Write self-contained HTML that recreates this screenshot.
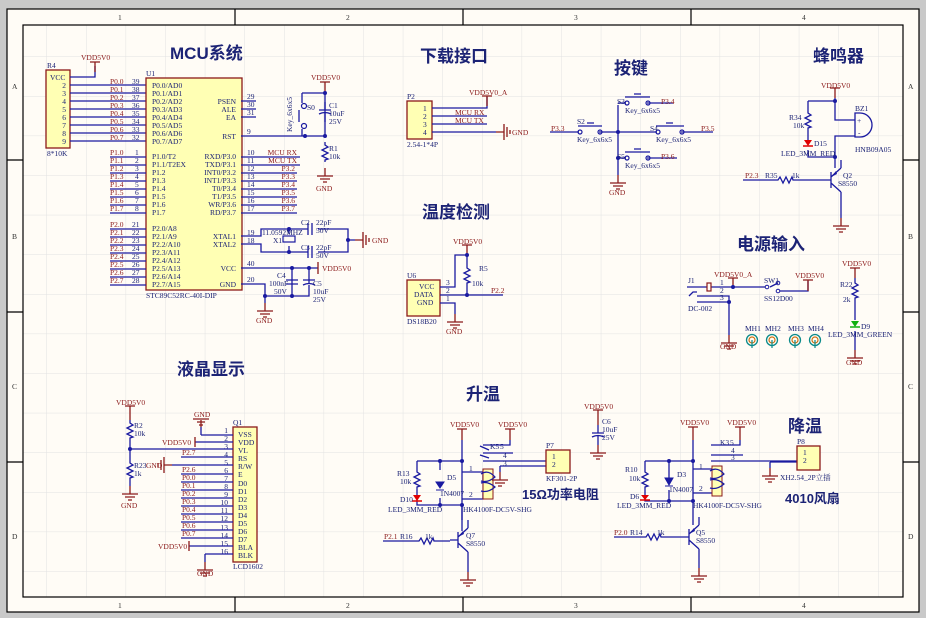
<!DOCTYPE html>
<html><head><meta charset="utf-8"><style>
html,body{margin:0;padding:0;background:#c9c9c9;}
svg{display:block;}
text{font-family:"Liberation Serif","Noto Serif CJK SC",serif;font-size:7.5px;}
.t{font-family:"Liberation Sans","Noto Sans CJK SC",sans-serif;font-size:17px;font-weight:bold;fill:#1c2375;}
.n{fill:#8b1a1a;}
.p{fill:#1c2375;}
.w{stroke:#1a1aa0;stroke-width:1.3;fill:none;}
.r{stroke:#8b1a1a;stroke-width:1.3;fill:none;}
.b{fill:#ffffb4;stroke:#8b1a1a;stroke-width:1.3;}
</style></head><body>
<svg width="926" height="618" viewBox="0 0 926 618" xmlns="http://www.w3.org/2000/svg">
<defs>
<pattern id="grid" x="6.8" y="16.8" width="39.6" height="39.6" patternUnits="userSpaceOnUse">
<path d="M0 0V39.6M0 0H39.6" stroke="#e2e2e2" stroke-width="1" fill="none"/>
</pattern>
<g id="gnd"><path d="M0 0V8M-8 8H8M-5 11H5M-2 14H2" stroke="#8b1a1a" stroke-width="1.3" fill="none"/></g>
<g id="gndr"><path d="M0 0H8M8 -8V8M11 -5V5M14 -2V2" stroke="#8b1a1a" stroke-width="1.3" fill="none"/></g>
<g id="gndl"><path d="M0 0H-8M-8 -8V8M-11 -5V5M-14 -2V2" stroke="#8b1a1a" stroke-width="1.3" fill="none"/></g>
<g id="res"><path d="M0 0V3L3 5L-3 8L3 11L-3 14L3 17L0 18V20" stroke="#1a1aa0" stroke-width="1.3" fill="none"/></g>
<g id="resh"><path d="M0 0H3L5 -3L8 3L11 -3L14 3L17 -3L18 0H20" stroke="#1a1aa0" stroke-width="1.3" fill="none"/></g>
<g id="pwr"><path d="M0 0V10M-5 0H5" stroke="#8b1a1a" stroke-width="1.3" fill="none"/></g>
<g id="cap"><path d="M0 0V8M-6 8H6M-6 12Q0 9 6 12M0 11V20" stroke="#1a1aa0" stroke-width="1.3" fill="none"/></g>
<g id="pnp"><path d="M-12 0H-4M-4 -8V8M-4 -3L6 -12M-4 3L6 12M6 -12V-20M6 12V20" stroke="#1a1aa0" stroke-width="1.3" fill="none"/><path d="M-4 -3L1 -9L2 -6Z" fill="#1a1aa0"/></g>
<g id="relay"><rect x="-5" y="0" width="10" height="30" fill="#ffffb4" stroke="#8b1a1a" stroke-width="1"/><path d="M-7 5Q0 0 7 8Q0 14 -7 12M-7 14Q0 12 7 18Q0 24 -7 22" stroke="#1a1aa0" stroke-width="1.2" fill="none"/></g>
<g id="mh"><circle r="5.5" fill="none" stroke="#0a8a8a" stroke-width="1.3"/><circle r="3" fill="none" stroke="#d07010" stroke-width="1.2"/><path d="M0 0V8" stroke="#0a8a8a" stroke-width="1.2"/></g>
</defs>
<rect x="7" y="9" width="912" height="603" fill="#fffcf6" stroke="#000" stroke-width="1.2"/>
<rect x="23" y="25" width="880" height="572" fill="url(#grid)" stroke="#000" stroke-width="1.2"/>
<path d="M235 9V25M463 9V25M691 9V25M235 597V612M463 597V612M691 597V612M7 160H23M7 312H23M7 462H23M903 160H919M903 312H919M903 462H919" stroke="#000" stroke-width="1.2"/>
<g fill="#333" font-size="7"><text x="118" y="20">1</text><text x="346" y="20">2</text><text x="574" y="20">3</text><text x="802" y="20">4</text>
<text x="118" y="608">1</text><text x="346" y="608">2</text><text x="574" y="608">3</text><text x="802" y="608">4</text>
<text x="12" y="89">A</text><text x="12" y="239">B</text><text x="12" y="389">C</text><text x="12" y="539">D</text>
<text x="908" y="89">A</text><text x="908" y="239">B</text><text x="908" y="389">C</text><text x="908" y="539">D</text></g>

<text class="t" x="170" y="59">MCU系统</text>
<text class="t" x="420" y="62">下载接口</text>
<text class="t" x="614" y="74">按键</text>
<text class="t" x="813" y="62">蜂鸣器</text>
<text class="t" x="422" y="218">温度检测</text>
<text class="t" x="737" y="250">电源输入</text>
<text class="t" x="177" y="375">液晶显示</text>
<text class="t" x="466" y="400">升温</text>
<text class="t" x="788" y="432">降温</text>
<text class="t" x="522" y="499" style="font-size:13px">15Ω功率电阻</text>
<text class="t" x="785" y="503" style="font-size:13px">4010风扇</text>

<text class="p" x="47" y="68">R4</text>
<rect class="b" x="46" y="70" width="24" height="78"/>
<text class="p" x="50" y="80">VCC</text>
<g class="p" text-anchor="end"><text x="66" y="88">2</text><text x="66" y="96">3</text><text x="66" y="104">4</text><text x="66" y="112">5</text><text x="66" y="120">6</text><text x="66" y="128">7</text><text x="66" y="136">8</text><text x="66" y="144">9</text></g>
<text class="p" x="47" y="156">8*10K</text>
<path class="w" d="M70 77H95V66M70 85H146M70 93H146M70 101H146M70 109H146M70 117H146M70 125H146M70 133H146M70 141H146"/>
<use href="#pwr" x="95" y="62"/><text class="n" x="81" y="60">VDD5V0</text>

<text class="p" x="146" y="76">U1</text>
<rect class="b" x="146" y="78" width="96" height="212"/>
<text class="p" x="146" y="298">STC89C52RC-40I-DIP</text>
<g class="p">
<text x="152" y="88">P0.0/AD0</text><text x="152" y="96">P0.1/AD1</text><text x="152" y="104">P0.2/AD2</text><text x="152" y="112">P0.3/AD3</text><text x="152" y="120">P0.4/AD4</text><text x="152" y="128">P0.5/AD5</text><text x="152" y="136">P0.6/AD6</text><text x="152" y="144">P0.7/AD7</text>
<text x="152" y="159">P1.0/T2</text><text x="152" y="167">P1.1/T2EX</text><text x="152" y="175">P1.2</text><text x="152" y="183">P1.3</text><text x="152" y="191">P1.4</text><text x="152" y="199">P1.5</text><text x="152" y="207">P1.6</text><text x="152" y="215">P1.7</text>
<text x="152" y="231">P2.0/A8</text><text x="152" y="239">P2.1/A9</text><text x="152" y="247">P2.2/A10</text><text x="152" y="255">P2.3/A11</text><text x="152" y="263">P2.4/A12</text><text x="152" y="271">P2.5/A13</text><text x="152" y="279">P2.6/A14</text><text x="152" y="287">P2.7/A15</text>
</g>
<g class="p" text-anchor="end">
<text x="236" y="104">PSEN</text><text x="236" y="112">ALE</text><text x="236" y="120">EA</text><text x="236" y="139">RST</text>
<text x="236" y="159">RXD/P3.0</text><text x="236" y="167">TXD/P3.1</text><text x="236" y="175">INT0/P3.2</text><text x="236" y="183">INT1/P3.3</text><text x="236" y="191">T0/P3.4</text><text x="236" y="199">T1/P3.5</text><text x="236" y="207">WR/P3.6</text><text x="236" y="215">RD/P3.7</text>
<text x="236" y="239">XTAL1</text><text x="236" y="247">XTAL2</text><text x="236" y="271">VCC</text><text x="236" y="287">GND</text>
</g>
<path class="w" d="M110 157H146M110 165H146M110 173H146M110 181H146M110 189H146M110 197H146M110 205H146M110 213H146M110 229H146M110 237H146M110 245H146M110 253H146M110 261H146M110 269H146M110 277H146M110 285H146"/>
<g class="n">
<text x="110" y="84">P0.0</text><text x="110" y="92">P0.1</text><text x="110" y="100">P0.2</text><text x="110" y="108">P0.3</text><text x="110" y="116">P0.4</text><text x="110" y="124">P0.5</text><text x="110" y="132">P0.6</text><text x="110" y="140">P0.7</text>
<text x="110" y="155">P1.0</text><text x="110" y="163">P1.1</text><text x="110" y="171">P1.2</text><text x="110" y="179">P1.3</text><text x="110" y="187">P1.4</text><text x="110" y="195">P1.5</text><text x="110" y="203">P1.6</text><text x="110" y="211">P1.7</text>
<text x="110" y="227">P2.0</text><text x="110" y="235">P2.1</text><text x="110" y="243">P2.2</text><text x="110" y="251">P2.3</text><text x="110" y="259">P2.4</text><text x="110" y="267">P2.5</text><text x="110" y="275">P2.6</text><text x="110" y="283">P2.7</text>
</g>
<g class="p">
<text x="132" y="84">39</text><text x="132" y="92">38</text><text x="132" y="100">37</text><text x="132" y="108">36</text><text x="132" y="116">35</text><text x="132" y="124">34</text><text x="132" y="132">33</text><text x="132" y="140">32</text>
<text x="135" y="155">1</text><text x="135" y="163">2</text><text x="135" y="171">3</text><text x="135" y="179">4</text><text x="135" y="187">5</text><text x="135" y="195">6</text><text x="135" y="203">7</text><text x="135" y="211">8</text>
<text x="132" y="227">21</text><text x="132" y="235">22</text><text x="132" y="243">23</text><text x="132" y="251">24</text><text x="132" y="259">25</text><text x="132" y="267">26</text><text x="132" y="275">27</text><text x="132" y="283">28</text>
<text x="247" y="99">29</text><text x="247" y="107">30</text><text x="247" y="115">31</text><text x="247" y="134">9</text>
<text x="247" y="155">10</text><text x="247" y="163">11</text><text x="247" y="171">12</text><text x="247" y="179">13</text><text x="247" y="187">14</text><text x="247" y="195">15</text><text x="247" y="203">16</text><text x="247" y="211">17</text>
<text x="247" y="235">19</text><text x="247" y="243">18</text><text x="247" y="266">40</text><text x="247" y="282">20</text>
</g>
<path class="w" d="M241 101H256M241 109H256M241 117H256M241 136H325M241 157H300M241 165H300M241 173H297M241 181H297M241 189H297M241 197H297M241 205H297M241 213H297"/>
<g class="n" text-anchor="end"><text x="297" y="155">MCU RX</text><text x="297" y="163">MCU TX</text><text x="295" y="171">P3.2</text><text x="295" y="179">P3.3</text><text x="295" y="187">P3.4</text><text x="295" y="195">P3.5</text><text x="295" y="203">P3.6</text><text x="295" y="211">P3.7</text></g>
<path class="w" d="M302 93H325V136M302 93V103M302 129V136"/>
<circle cx="304" cy="106" r="2.5" fill="none" stroke="#1a1aa0" stroke-width="1.2"/><circle cx="304" cy="126" r="2.5" fill="none" stroke="#1a1aa0" stroke-width="1.2"/>
<path class="w" d="M299 110V122"/>
<text class="p" x="0" y="0" transform="translate(292 132) rotate(-90)">Key_6x6x5</text>
<text class="p" x="307" y="110">S0</text>
<use href="#pwr" x="325" y="82"/><text class="n" x="311" y="80">VDD5V0</text>
<use href="#cap" x="325" y="102"/><text class="p" x="329" y="108">C1</text><text class="p" x="329" y="116">10uF</text><text class="p" x="329" y="124">25V</text>
<use href="#res" x="325" y="142"/><text class="p" x="329" y="151">R1</text><text class="p" x="329" y="159">10k</text>
<use href="#gnd" x="325" y="168"/><text class="n" x="316" y="191">GND</text>
<circle cx="325" cy="93" r="2" fill="#1a1aa0"/><circle cx="305" cy="136" r="2" fill="#1a1aa0"/><circle cx="325" cy="136" r="2" fill="#1a1aa0"/>
<path class="w" d="M241 236H261V229H308M318 229H348V252H318M308 252H261V244H241M289 229V234M289 246V252M348 240H355"/>
<path class="w" d="M308 223V235M312 223V235M308 246V258M312 246V258"/>
<rect x="283" y="236" width="12" height="6" fill="none" stroke="#1a1aa0" stroke-width="1.2"/>
<use href="#gndr" x="355" y="240"/><text class="n" x="372" y="243">GND</text>
<circle cx="289" cy="229" r="2" fill="#1a1aa0"/><circle cx="289" cy="252" r="2" fill="#1a1aa0"/><circle cx="348" cy="240" r="2" fill="#1a1aa0"/>
<text class="p" x="262" y="235">11.0592MHZ</text><text class="p" x="273" y="243">X1</text>
<text class="p" x="301" y="225">C2</text><text class="p" x="316" y="225">22pF</text><text class="p" x="316" y="233">50V</text>
<text class="p" x="301" y="250">C3</text><text class="p" x="316" y="250">22pF</text><text class="p" x="316" y="258">50V</text>
<path class="w" d="M241 268H318M241 284H265V296H309V268M292 268V296M265 296V303"/>
<path class="r" d="M318 262V274"/><text class="n" x="322" y="271">VDD5V0</text>
<path d="M286 280H298M286 284H298M303 280H315M303 285Q309 282 315 285" stroke="#1a1aa0" stroke-width="1.3" fill="#fffcf6"/>
<circle cx="292" cy="268" r="2" fill="#1a1aa0"/><circle cx="309" cy="268" r="2" fill="#1a1aa0"/><circle cx="265" cy="296" r="2" fill="#1a1aa0"/><circle cx="292" cy="296" r="2" fill="#1a1aa0"/>
<text class="p" x="277" y="278">C4</text><text class="p" x="269" y="286">100nF</text><text class="p" x="274" y="294">50V</text>
<text class="p" x="313" y="286">C5</text><text class="p" x="313" y="294">10uF</text><text class="p" x="313" y="302">25V</text>
<use href="#gnd" x="265" y="303"/><text class="n" x="256" y="323">GND</text>

<text class="p" x="407" y="99">P2</text>
<rect class="b" x="407" y="101" width="25" height="38"/>
<g class="p"><text x="423" y="111">1</text><text x="423" y="119">2</text><text x="423" y="127">3</text><text x="423" y="135">4</text></g>
<text class="p" x="407" y="147">2.54-1*4P</text>
<path class="w" d="M432 108H487V97M432 116H487M432 124H487M432 132H496"/>
<path class="r" d="M487 96V106M482 96H492"/><text class="n" x="469" y="95">VDD5V0_A</text>
<g class="n"><text x="455" y="115">MCU RX</text><text x="455" y="123">MCU TX</text></g>
<use href="#gndr" x="496" y="132"/><text class="n" x="512" y="135">GND</text>

<text class="p" x="407" y="278">U6</text>
<rect class="b" x="407" y="280" width="33" height="36"/>
<g class="p"><text x="419" y="289">VCC</text><text x="414" y="297">DATA</text><text x="417" y="305">GND</text>
<text x="446" y="285">3</text><text x="446" y="293">2</text><text x="446" y="301">1</text></g>
<text class="p" x="407" y="324">DS18B20</text>
<path class="w" d="M440 287H455V255H467V265M440 295H503M440 303H455V314M467 285V295"/>
<use href="#res" x="467" y="265"/><text class="p" x="479" y="271">R5</text><text class="p" x="472" y="286">10k</text>
<path class="r" d="M467 245V255M462 245H472"/><text class="n" x="453" y="244">VDD5V0</text>
<circle cx="467" cy="255" r="2" fill="#1a1aa0"/><circle cx="467" cy="295" r="2" fill="#1a1aa0"/>
<text class="n" x="491" y="293">P2.2</text>
<use href="#gnd" x="455" y="314"/><text class="n" x="446" y="334">GND</text>

<path class="w" d="M550 132H579M599 132H657M681 132H713M618 105V175M618 103H626M647 103H673M618 158H626M647 158H677"/>
<g fill="none" stroke="#1a1aa0" stroke-width="1.2">
<circle cx="580" cy="132" r="2"/><circle cx="600" cy="132" r="2"/><circle cx="627" cy="103" r="2"/><circle cx="648" cy="103" r="2"/>
<circle cx="658" cy="132" r="2"/><circle cx="682" cy="132" r="2"/><circle cx="627" cy="158" r="2"/><circle cx="648" cy="158" r="2"/></g>
<path class="w" d="M578 126H602M587 123H594M625 97H650M634 94H641M656 126H684M666 123H673M625 152H650M634 149H641"/>
<circle cx="618" cy="132" r="2" fill="#1a1aa0"/><circle cx="618" cy="158" r="2" fill="#1a1aa0"/>
<g class="p"><text x="577" y="124">S2</text><text x="617" y="104">S3</text><text x="650" y="131">S4</text><text x="617" y="159">S5</text>
<text x="577" y="142">Key_6x6x5</text><text x="625" y="113">Key_6x6x5</text><text x="656" y="142">Key_6x6x5</text><text x="625" y="168">Key_6x6x5</text></g>
<g class="n"><text x="551" y="131">P3.3</text><text x="661" y="104">P3.4</text><text x="701" y="131">P3.5</text><text x="661" y="159">P3.6</text></g>
<use href="#gnd" x="618" y="175"/><text class="n" x="609" y="195">GND</text>

<path class="r" d="M835 88V98M830 88H840"/><text class="n" x="821" y="88">VDD5V0</text>
<path class="w" d="M835 98V120H855M808 101H835M808 101V110M808 130V140M808 150V157H835V136H855M835 157V168"/>
<use href="#res" x="808" y="110"/>
<circle cx="835" cy="101" r="2" fill="#1a1aa0"/><circle cx="835" cy="157" r="2" fill="#1a1aa0"/>
<path d="M804 140H812L808 146Z" fill="#e00000"/><path d="M803 146H813" stroke="#e00000" stroke-width="1.5"/>
<text class="p" x="789" y="120">R34</text><text class="p" x="793" y="128">10k</text>
<text class="p" x="814" y="146">D15</text><text class="p" x="781" y="156">LED_3MM_RED</text>
<path d="M855 113H860A12 12 0 0 1 860 137H855Z" fill="none" stroke="#1a1aa0" stroke-width="1.3"/>
<text class="p" x="857" y="123" font-size="9">+</text><text class="p" x="858" y="135" font-size="9">-</text>
<text class="p" x="855" y="111">BZ1</text><text class="p" x="855" y="152">HNB09A05</text>
<use href="#pnp" x="835" y="180"/>
<path class="w" d="M743 180H775M795 180H823M841 200V218"/>
<use href="#resh" x="775" y="180"/>
<text class="n" x="745" y="178">P2.3</text><text class="p" x="765" y="178">R35</text><text class="p" x="792" y="178">1k</text>
<text class="p" x="843" y="178">Q2</text><text class="p" x="838" y="186">S8550</text>
<use href="#gnd" x="841" y="218"/>

<path class="w" d="M687 287H707M711 287H765M780 291H808V281M697 296H729V335M689 296L693 292H697"/>
<rect x="707" y="283" width="4" height="8" fill="none" stroke="#8b1a1a" stroke-width="1.2"/>
<path class="w" d="M697 302H729M770 287L778 283"/>
<circle cx="767" cy="287" r="1.8" fill="none" stroke="#1a1aa0"/><circle cx="778" cy="283" r="1.8" fill="none" stroke="#1a1aa0"/><circle cx="778" cy="291" r="1.8" fill="none" stroke="#1a1aa0"/>
<path class="r" d="M733 278V287M728 278H738M808 280V291M803 280H813"/>
<text class="n" x="714" y="277">VDD5V0_A</text><text class="n" x="795" y="278">VDD5V0</text>
<circle cx="733" cy="287" r="2" fill="#1a1aa0"/><circle cx="729" cy="302" r="2" fill="#1a1aa0"/>
<g class="p"><text x="688" y="283">J1</text><text x="720" y="285">1</text><text x="720" y="293">2</text><text x="720" y="300">3</text><text x="688" y="311">DC-002</text>
<text x="764" y="283">SW1</text><text x="764" y="301">SS12D00</text>
<text x="745" y="331">MH1</text><text x="765" y="331">MH2</text><text x="788" y="331">MH3</text><text x="808" y="331">MH4</text></g>
<use href="#gnd" x="729" y="335"/><text class="n" x="720" y="349">GND</text>
<use href="#mh" x="752" y="340"/><use href="#mh" x="772" y="340"/><use href="#mh" x="795" y="340"/><use href="#mh" x="815" y="340"/>
<path class="r" d="M855 268V278M850 268H860"/><text class="n" x="842" y="266">VDD5V0</text>
<path class="w" d="M855 278V280M855 300V320M855 331V350"/>
<use href="#res" x="855" y="280"/>
<text class="p" x="840" y="287">R22</text><text class="p" x="843" y="302">2k</text>
<path d="M851 321H859L855 327Z" fill="#10b010"/><path d="M850 327H860" stroke="#10b010" stroke-width="1.5"/>
<text class="p" x="861" y="329">D9</text><text class="p" x="828" y="337">LED_3MM_GREEN</text>
<use href="#gnd" x="855" y="350"/><text class="n" x="846" y="365">GND</text>

<text class="p" x="233" y="425">Q1</text>
<rect class="b" x="233" y="427" width="24" height="135"/>
<g class="p">
<text x="238" y="437">VSS</text><text x="238" y="445">VDD</text><text x="238" y="453">VL</text><text x="238" y="461">RS</text><text x="238" y="469">R/W</text><text x="238" y="477">E</text><text x="238" y="486">D0</text><text x="238" y="494">D1</text><text x="238" y="502">D2</text><text x="238" y="510">D3</text><text x="238" y="518">D4</text><text x="238" y="526">D5</text><text x="238" y="534">D6</text><text x="238" y="542">D7</text><text x="238" y="550">BLA</text><text x="238" y="558">BLK</text>
</g>
<text class="p" x="233" y="569">LCD1602</text>
<g class="p" text-anchor="end"><text x="228" y="433">1</text><text x="228" y="441">2</text><text x="228" y="449">3</text><text x="228" y="457">4</text><text x="228" y="465">5</text><text x="228" y="473">6</text><text x="228" y="481">7</text><text x="228" y="489">8</text><text x="228" y="497">9</text><text x="228" y="505">10</text><text x="228" y="513">11</text><text x="228" y="521">12</text><text x="228" y="530">13</text><text x="228" y="538">14</text><text x="228" y="546">15</text><text x="228" y="554">16</text></g>
<path class="w" d="M201 435H233M195 442H233M130 449H233M181 457H233M172 465H233M181 474H233M181 482H233M181 490H233M181 498H233M181 506H233M181 514H233M181 522H233M181 530H233M181 538H233M189 546H233M205 554H233M201 427V435M205 554V562"/>
<g class="n"><text x="182" y="455">P2.7</text><text x="182" y="472">P2.6</text><text x="182" y="480">P0.0</text><text x="182" y="488">P0.1</text><text x="182" y="496">P0.2</text><text x="182" y="504">P0.3</text><text x="182" y="512">P0.4</text><text x="182" y="520">P0.5</text><text x="182" y="528">P0.6</text><text x="182" y="536">P0.7</text>
<text x="162" y="445">VDD5V0</text><text x="158" y="549">VDD5V0</text><text x="146" y="468">GND</text><text x="194" y="417">GND</text><text x="197" y="576">GND</text></g>
<path class="r" d="M195 437V447M189 541V551M193 419H209M197 422H205M199 425H203M201 420V427"/>
<use href="#gndl" x="172" y="465"/>
<use href="#gnd" x="205" y="562"/>
<path class="r" d="M125 406H135M130 406V420"/><text class="n" x="116" y="405">VDD5V0</text>
<use href="#res" x="130" y="420"/><use href="#res" x="130" y="460"/>
<path class="w" d="M130 440V460M130 480V486"/>
<circle cx="130" cy="449" r="2" fill="#1a1aa0"/>
<text class="p" x="134" y="428">R2</text><text class="p" x="134" y="436">10k</text><text class="p" x="134" y="468">R23</text><text class="p" x="134" y="476">1k</text>
<use href="#gnd" x="130" y="486"/><text class="n" x="121" y="508">GND</text>

<path class="r" d="M457 429H467M462 429V440M505 429H515M510 429V440"/>
<text class="n" x="450" y="427">VDD5V0</text><text class="n" x="498" y="427">VDD5V0</text>
<path class="w" d="M462 440V531M417 461H462M417 461V469M417 489V505H462M440 461V470M440 498V505M462 472H483V481M462 499H483V492M510 440V445H483M483 453H513M483 461H546M500 466V472M500 466H546"/>
<path class="w" d="M489 450L480 446M489 458L480 455"/>
<use href="#res" x="417" y="469"/>
<path d="M436 482H444L440 488ZM436 490H444" fill="#1a1aa0" stroke="#1a1aa0"/>
<path d="M413 495H421L417 501Z" fill="#e00000"/><path d="M412 501H422" stroke="#e00000" stroke-width="1.5"/>
<use href="#relay" x="488" y="469"/>
<circle cx="440" cy="461" r="2" fill="#1a1aa0"/><circle cx="462" cy="461" r="2" fill="#1a1aa0"/><circle cx="440" cy="505" r="2" fill="#1a1aa0"/><circle cx="462" cy="505" r="2" fill="#1a1aa0"/>
<g class="p"><text x="397" y="476">R13</text><text x="400" y="484">10k</text><text x="447" y="480">D5</text><text x="440" y="496">1N4007</text><text x="400" y="502">D10</text><text x="388" y="512">LED_3MM_RED</text>
<text x="469" y="471">1</text><text x="469" y="497">2</text><text x="463" y="512">HK4100F-DC5V-SHG</text><text x="490" y="449">K5</text><text x="500" y="449">5</text><text x="503" y="458">4</text><text x="503" y="466">3</text></g>
<use href="#gnd" x="500" y="472"/>
<text class="p" x="546" y="448">P7</text>
<rect class="b" x="546" y="450" width="24" height="23"/>
<text class="p" x="552" y="459">1</text><text class="p" x="552" y="467">2</text><text class="p" x="546" y="481">KF301-2P</text>
<use href="#pnp" x="462" y="540"/>
<path class="w" d="M383 541H416M436 541H450M468 560V572M462 505V520"/>
<use href="#resh" x="416" y="541"/>
<text class="n" x="384" y="539">P2.1</text><text class="p" x="400" y="539">R16</text><text class="p" x="425" y="539">1k</text>
<text class="p" x="466" y="538">Q7</text><text class="p" x="466" y="546">S8550</text>
<use href="#gnd" x="468" y="572"/>
<path class="r" d="M593 410H603M598 410V425"/><text class="n" x="584" y="409">VDD5V0</text>
<use href="#cap" x="598" y="425"/><use href="#gnd" x="598" y="445"/>
<text class="p" x="602" y="424">C6</text><text class="p" x="602" y="432">10uF</text><text class="p" x="602" y="440">25V</text>

<path class="r" d="M688 427H698M693 427V440M735 427H745M740 427V440"/>
<text class="n" x="680" y="425">VDD5V0</text><text class="n" x="727" y="425">VDD5V0</text>
<path class="w" d="M693 440V525M645 461H693M645 461V469M645 489V501H693M669 461V478M669 490V501M693 469H713V472M693 493H713V491M740 440V445H711M711 455H743M711 461H797M770 462V468M770 462H797"/>
<use href="#res" x="645" y="469"/>
<path d="M665 478H673L669 485ZM665 486H673" fill="#1a1aa0" stroke="#1a1aa0"/>
<path d="M641 495H649L645 500Z" fill="#e00000"/><path d="M640 500H650" stroke="#e00000" stroke-width="1.5"/>
<use href="#relay" x="717" y="466"/>
<circle cx="669" cy="461" r="2" fill="#1a1aa0"/><circle cx="693" cy="461" r="2" fill="#1a1aa0"/><circle cx="669" cy="501" r="2" fill="#1a1aa0"/><circle cx="693" cy="501" r="2" fill="#1a1aa0"/>
<g class="p"><text x="625" y="472">R10</text><text x="629" y="481">10k</text><text x="677" y="477">D3</text><text x="669" y="492">1N4007</text><text x="630" y="499">D6</text><text x="617" y="508">LED_3MM_RED</text>
<text x="699" y="469">1</text><text x="699" y="491">2</text><text x="693" y="508">HK4100F-DC5V-SHG</text><text x="720" y="445">K3</text><text x="730" y="445">5</text><text x="731" y="453">4</text><text x="731" y="460">3</text></g>
<use href="#gnd" x="770" y="468"/>
<text class="p" x="797" y="444">P8</text>
<rect class="b" x="797" y="446" width="23" height="24"/>
<text class="p" x="803" y="455">1</text><text class="p" x="803" y="463">2</text><text class="p" x="780" y="480">XH2.54_2P立插</text>
<use href="#pnp" x="693" y="537"/>
<path class="w" d="M614 537H643M663 537H681M699 557V568"/>
<use href="#resh" x="643" y="537"/>
<text class="n" x="614" y="535">P2.0</text><text class="p" x="630" y="535">R14</text><text class="p" x="657" y="535">1k</text>
<text class="p" x="696" y="535">Q5</text><text class="p" x="696" y="543">S8550</text>
<use href="#gnd" x="699" y="568"/>
</svg>
</body></html>
